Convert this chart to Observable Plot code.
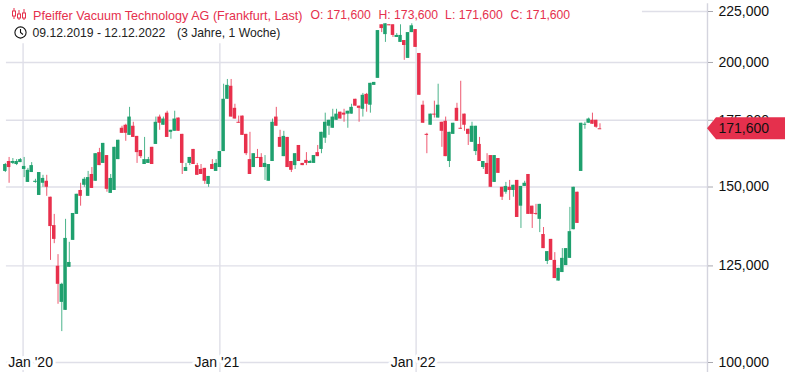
<!DOCTYPE html>
<html><head><meta charset="utf-8">
<script src="https://cdn.jsdelivr.net/npm/d3@7"></script>
<script src="https://cdn.jsdelivr.net/npm/@observablehq/plot@0.6"></script>
<style>html,body{margin:0;padding:0;background:#fff;overflow:hidden}svg{display:block}</style>
</head><body><div id="c"></div>
<script>
const firstWeek = "2019-11-29";
const open = [
155.5,159.1,158.4,158,158.7,156.2,151.6,155.1,151.6,147.1,
151.3,152,146.5,137.2,124.9,114.9,112.8,124.6,132.6,140.8,
148.8,150.6,146.8,154.4,152,162.4,158.4,161.3,147.8,148.8,
159.8,171.8,173,169,172.6,168.6,163.2,158,158.4,164.4,
165.5,176.3,173,177.9,170.2,170.6,175.9,169.4,155.5,158.4,
163.6,157.6,156.2,156.6,150.9,158,155.5,156.9,162.8,183.7,
189.3,179.9,174.2,176.7,169.4,159.8,156.9,160.6,160.6,156.9,
152,159.1,176.3,168.2,160.9,168.2,159.1,157.6,165.1,158.4,
159.5,158.4,158.4,162.4,163.6,167.9,172.6,171.8,175,178.3,
177.9,177.5,177.5,183.7,180.8,179.5,185.8,181.2,189.7,192.8,
218.2,213.3,218.2,218.2,211.9,209.5,210.4,201.9,214.3,215.8,
204.2,181.2,169.4,173,177.5,175.9,174.2,174.6,159.1,169.4,
179.9,171.8,177.5,171.4,166.3,162.8,165.5,156.9,158.4,161.3,
151.6,160.2,149.9,148.2,149.9,148.8,152.3,143.5,150.2,154.4,
143.5,141.1,139.2,134.4,126.3,132.9,126.6,120.7,123.1,125.1,
127.2,135.9,148.2,155.5,173,173.8,175,175,171.6];
const close = [
158,156.9,159.1,159.1,159.8,157.3,155.9,157.6,152,155.1,
153,149.9,136.9,132.9,119.8,119.8,133.2,126,141.1,147.5,
146.8,152.7,153.3,149.5,162,157.6,165.9,149.2,153,164.4,
167.1,169.8,169.8,176.3,168.2,162.4,160.9,159.8,159.8,158,
174.2,173.8,175.5,168.2,171,175.5,170.6,158.4,156.9,160.6,
158,154.1,154.4,152,153.7,156.2,158.4,162.8,183.7,189.7,
176.3,175.5,173.8,169,162,154.4,162,160.2,156.9,158.4,
158,174.2,172.6,164.4,168.6,156.9,155.9,162,159.1,157.6,
158.4,159.1,161.3,160.9,170.2,174.2,175,176.3,177.5,175.5,
177.1,178.7,180.3,180.8,179.9,185.4,181.6,190.6,191,215.3,
216.3,218.7,217.7,212.9,212.9,212.9,208,214.3,217.7,207.1,
185.4,173.8,169,177.5,177.1,181.2,170.6,160.9,170.2,173.8,
174.6,171.4,173,169.4,172.6,172.6,159.1,159.1,154.4,149.9,
161.3,154.8,146.5,150.2,148.8,150.6,139.8,150.2,151.3,140.8,
140.8,140.8,144.1,130.1,129.2,126.6,121.4,124.3,127.2,130.1,
135.3,149.9,137.9,173.8,173.4,175.5,173.4,172.2,171.6];
const high = [
158.4,160.6,160.2,159.8,160.2,160.6,156.6,158.7,152.7,155.1,
154.1,154.1,146.5,140.8,128.3,120.1,139.2,132,141.1,147.5,
151.3,153.3,155.5,156.9,162,164,165.9,161.3,154.4,164.4,
167.1,172.6,173.4,180.3,174.2,168.6,163.2,168.2,160.6,164.4,
176.3,177.1,176.3,178.7,171,178.7,175.9,169.4,158.4,160.6,
163.6,158.4,158,156.6,153.7,159.8,159.8,162.8,190.2,192.3,
192.3,181.6,176.7,176.7,169.4,170.2,162,163.6,162,161.3,
158,175.5,180.3,171,170.6,168.2,159.1,162,165.1,158.4,
162.4,159.5,161.3,165.1,170.2,177.9,175,179.5,179.5,178.3,
179.5,178.7,181.6,183.7,180.8,186.2,186.2,190.6,191,215.3,
218.2,218.7,218.2,218.2,213.8,218.2,210.4,214.3,218.7,215.8,
204.2,182.9,169.8,177.5,182.9,190.2,174.2,176.3,170.2,173.8,
182,191.5,177.5,171.4,174.2,172.6,168.2,159.1,162,161.3,
161.3,160.2,149.9,151.6,152.3,150.6,152.3,150.2,152,154.4,
143.5,144.1,144.1,136.6,129.2,132.9,128.9,124.3,130.1,130.1,
143.1,149.9,148.2,173.8,174.2,175.9,177.9,175,173.6];
const low = [
155.1,151.3,158,157.6,158.7,153.3,151.6,155.1,151.3,147.1,
149.9,146.8,126.6,131.6,114.4,107.4,112.8,124.6,132.6,140.8,
143.5,149.9,146.8,149.5,152,157.6,158.4,148.2,147.8,148.8,
159.8,169.8,166.7,169,168.2,158.4,160.2,158,158.4,158,
165.5,171,173,168.2,167.5,170.6,170.6,154.4,155.5,157.6,
158,154.1,154.4,150.9,149.9,156.2,155.5,156.9,162.8,183.7,
176.3,175.5,173.8,169,161.3,154.4,156.9,160.2,156.9,152.3,
152,159.1,172.6,164.4,160.9,156.9,155.1,156.2,159.1,157.6,
157.6,158.4,158.4,160.9,162,165.9,169,171.8,175,175.5,
174.2,171.8,177.5,180.8,174.2,176.3,178.3,177.9,189.7,192.8,
214.3,209.5,217.7,211.9,211.9,209.5,201,201.9,214.3,207.1,
185.4,173.8,162,173,175.9,175.9,164.4,160.9,156.9,169.4,
174.6,171.4,170.6,165.1,166.3,161.3,159.1,156.2,154.4,149.9,
151.6,154.8,145.4,147.5,145.4,146.5,139.8,136.3,150.2,140.8,
136.3,140.5,135,130.1,125.4,126.6,121.4,120.7,123.1,125.1,
127.2,135.9,137.9,155.5,171.4,173.8,173.4,171.8,171.6];
const yTicks = [100000,125000,150000,175000,200000,225000];
const xTicks = ["2020-01-01","2021-01-01","2022-01-01"];
const xLabels = ["Jan '20","Jan '21","Jan '22"];
const titleName = "Pfeiffer Vacuum Technology AG (Frankfurt, Last)";
const titleOHLC = ["O: 171,600","H: 173,600","L: 171,600","C: 171,600"];
const titleDates = "09.12.2019 - 12.12.2022";
const titleSpan = "(3 Jahre, 1 Woche)";
const lastLabel = "171,600";

const UP = "#1fa06e", DOWN = "#e8304c", GRID = "#dfdfe8", RED = "#e5304d", INK = "#111";
const d = s => new Date(s + "T00:00:00Z");
const rows = open.map((o, i) => ({
  date: d3.utcDay.offset(d(firstWeek), 7 * i),
  open: o * 1000, close: close[i] * 1000, high: high[i] * 1000, low: low[i] * 1000,
  color: close[i] > o ? UP : DOWN
}));
const half = dt => d3.utcHour.offset(dt, -78), half2 = dt => d3.utcHour.offset(dt, 78);
const xStart = d("2019-11-20"), xEnd = d("2023-06-27");
const gridStart = d("2019-12-01"), topGridStart = d("2023-02-26");
const ticksX = xTicks.map((t, i) => ({date: d(t), label: xLabels[i]}));
const last = rows[rows.length - 1];

const textMark = (s, x, y, fill, size) => Plot.text([s], {
  text: t => t, frameAnchor: "top-left", dx: x, dy: y, textAnchor: "start", lineAnchor: "middle",
  fill, fontSize: size
});

const icons = () => {
  const ns = "http://www.w3.org/2000/svg";
  const g = document.createElementNS(ns, "g");
  const add = (tag, attrs) => { const e = document.createElementNS(ns, tag);
    for (const k in attrs) e.setAttribute(k, attrs[k]); g.appendChild(e); };
  for (const [x, t, b, lo, hi] of [[14,11,16,8,19],[19,14,18,10,20],[24,13,18,9,20]]) {
    add("path", {d:`M${x} ${lo}V${hi}`, stroke:RED, "stroke-width":1, fill:"none"});
    add("rect", {x:x-1.5, y:t, width:3, height:b-t, fill:"#fff", stroke:RED, "stroke-width":1});
  }
  add("circle", {cx:20.5, cy:32.5, r:5.6, fill:"none", stroke:INK, "stroke-width":1.1});
  add("path", {d:"M20.5 29V32.5L23 34.5", fill:"none", stroke:INK, "stroke-width":1.1});
  return g;
};
const flag = (index, scales) => {
  const ns = "http://www.w3.org/2000/svg";
  const p = document.createElementNS(ns, "path");
  const y = scales.y(last.close), x0 = scales.x(xEnd);
  p.setAttribute("d", `M${x0} ${y}L${x0+9} ${y-11}H785V${y+11}H${x0+9}Z`);
  p.setAttribute("fill", RED);
  return p;
};

const chart = Plot.plot({
  width: 785, height: 378,
  marginLeft: 0, marginRight: 78, marginTop: 0, marginBottom: 0,
  style: {fontFamily: "'Liberation Sans', Arial, sans-serif", background: "#fff", overflow: "visible"},
  x: {type: "utc", domain: [xStart, xEnd], range: [0, 707], axis: null},
  y: {type: "log", domain: [100000, 225000], range: [362, 11], axis: null},
  marks: [
    Plot.ruleY(yTicks.filter(t => t < 225000), {y: t => t, x1: gridStart, x2: xEnd, stroke: GRID, strokeWidth: 1.4}),
    Plot.ruleY([225000], {x1: topGridStart, x2: xEnd, stroke: GRID, strokeWidth: 1.4}),
    Plot.ruleX(ticksX, {x: "date", y1: 208800, y2: 97700, stroke: GRID, strokeWidth: 1.4}),
    Plot.ruleX([xEnd], {y1: 229000, y2: 97700, stroke: "#d4d4de", strokeWidth: 1.4}),
    Plot.axisY({anchor: "right", ticks: yTicks, tickFormat: d3.format(","), tickSize: 5, tickPadding: 6,
      stroke: "#a8a8b0", fill: INK, fontSize: 14, label: null}),
    Plot.text(ticksX.slice(0, 1), {x: "date", y: 100000, text: "label", dx: 7.5, fontSize: 14, fill: INK, stroke: "#fff", strokeWidth: 6, paintOrder: "stroke"}),
    Plot.text(ticksX.slice(1), {x: "date", y: 100000, text: "label", dx: -3, fontSize: 14, fill: INK, stroke: "#fff", strokeWidth: 6, paintOrder: "stroke"}),
    Plot.ruleX(rows, {x: "date", y1: "low", y2: "high", stroke: "color", strokeWidth: 1, strokeOpacity: 0.8}),
    Plot.rect(rows, {x1: r => half(r.date), x2: r => half2(r.date), y1: "open", y2: "close", fill: "color"}),
    Plot.ruleY(rows.filter(r => r.open === r.close), {y: "close", x1: r => half(r.date), x2: r => half2(r.date), stroke: "color"}),
    flag,
    Plot.text([lastLabel], {text: t => t, x: xEnd, y: last.close, dx: 11, textAnchor: "start", fontSize: 14, fill: INK}),
    icons,
    textMark(titleName, 32.5, 15, RED, 12.6),
    ...titleOHLC.map((t, i) => textMark(t, [310, 378, 444.6, 510][i], 15, RED, 12.2)),
    textMark(titleDates, 32, 33, "#222", 12.2),
    textMark(titleSpan, 176.5, 33, "#222", 12.2)
  ]
});
document.getElementById("c").appendChild(chart);
</script></body></html>
